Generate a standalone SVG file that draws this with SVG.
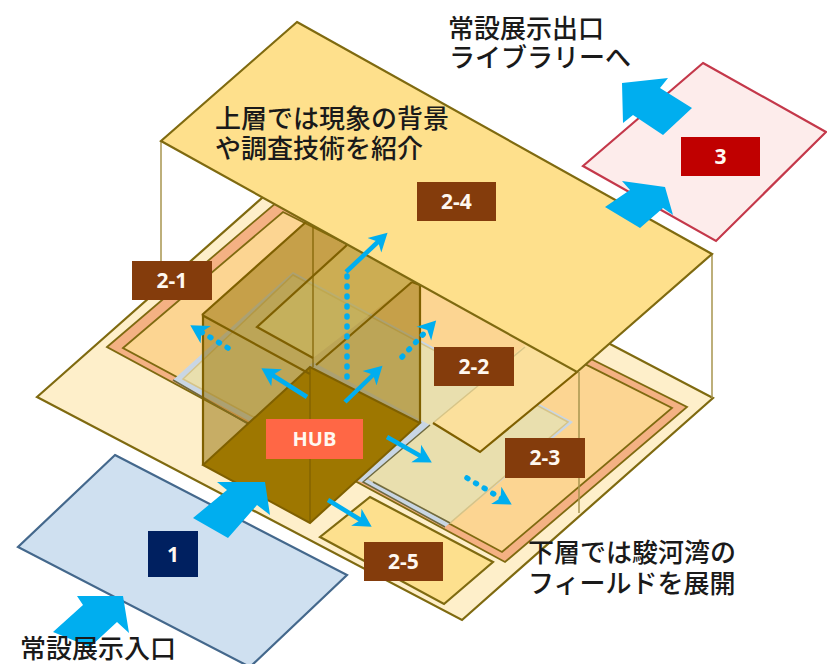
<svg xmlns="http://www.w3.org/2000/svg" width="827" height="664" viewBox="0 0 827 664">
<style>
.t{font-family:"Noto Sans CJK JP","Noto Sans",sans-serif;font-size:26px;font-weight:500;fill:#1a1a1a}
.l{font-family:"Open Sans","Liberation Sans",sans-serif;font-size:21px;font-weight:700;fill:#fff8f0;text-anchor:middle}
.o{stroke:#7f6a10;stroke-width:2.2;stroke-linejoin:miter}
.c{fill:none;stroke:#7f6000;stroke-width:2.2}
.v{fill:none;stroke:#a8954f;stroke-width:1.5}
.a{fill:none;stroke:#00aeef;stroke-width:4.5;marker-end:url(#h)}
.d{fill:none;stroke:#00aeef;stroke-width:5.5;stroke-linecap:round;stroke-dasharray:1 9}
.b{fill:#00aeef}
.r{fill:#843c0c}
</style>
<defs>
<marker id="h" markerUnits="userSpaceOnUse" markerWidth="26" markerHeight="26" refX="9" refY="13" orient="auto" viewBox="0 0 26 26">
<path d="M0,3 L18,13 L0,23 L5,13 Z" fill="#00aeef"/>
</marker>
</defs>
<rect width="827" height="664" fill="#fff"/>

<g id="lower-floor">
<polygon class="o" points="37,397 288,175 713,398 462,620" fill="#feefca"/>
<polygon points="107,347 277,202 687,407 505,562" fill="#f4b183" stroke="#7f6a10" stroke-width="1.8"/>
<polygon points="123,348 283,212 672,408 502,552" fill="#fcd592" stroke="#7f6a10" stroke-width="1.8"/>
<polygon points="173,380 293,272 573,422 445,527" fill="#c9d6e4"/>
<polygon points="183,379 293,275 568,422 450,523" fill="#e9dfae" stroke="#d6c488" stroke-width="1.5"/>
<polygon points="250,425 313,362 430,425 363,482 310,470" fill="#c9d6e4"/>
<path d="M173,380 L250,425 M430,425 L363,482 L445,527 M373,482 L450,523" fill="none" stroke="#6e6a40" stroke-width="1.5"/>
<polygon points="433,423 480,452 577,372 525,345" fill="#fbe09c"/>
<path d="M433,423 L525,347" fill="none" stroke="#d6c488" stroke-width="1.5"/>
<path d="M433,423 L480,452 L577,372" class="c"/>
</g>

<g id="zone-2-5">
<polygon class="o" points="370,497 493,562 444,604 320,537" fill="#fde08e"/>
<rect class="r" x="364" y="542" width="79" height="39"/>
<text class="l" x="403.500" y="569">2-5</text>
</g>

<g id="hub">
<polygon points="202,315 306,222 420,285 420,423 310,523 203,465" fill="#8f6c00" fill-opacity="0.5"/>
<polygon points="257,327 347,245 412,282 313,358" fill="#d8c668" fill-opacity="0.35"/>
<polygon points="310,367 420,423 310,523 203,465" fill="#9e7700"/>
<path class="c" d="M202,315 L306,222 M347,245 L257,327 L313,358 M412,282 L316,365 M202,315 L310,374 M203,465 L203,315 M412,282 L420,285 L420,423"/>
<path d="M203,465 L310,367 L420,423 L310,523 Z" fill="none" stroke="#7f6000" stroke-width="2"/>
<path d="M313,222 L313,367 M310,367 L310,523" fill="none" stroke="#7f6000" stroke-width="1.2"/>
<rect x="266" y="419" width="97" height="40" fill="#ff6745"/>
<text class="l" x="314.500" y="446" style="font-size:20px">HUB</text>
</g>

<g id="upper-floor">
<path class="v" d="M161,141 V262 M712,254 V398 M579,372 V513"/>
<polygon class="o" points="297,22 712,254 577,372 161,141" fill="#fee08c"/>
</g>

<g id="zone-1">
<polygon points="115,455 347,575 250,667 18,547" fill="#cfe0f0" stroke="#44688c" stroke-width="2.2"/>
<rect x="148" y="531" width="50" height="46" fill="#002060"/>
<text class="l" x="173" y="562">1</text>
</g>

<g id="zone-3">
<polygon points="703,63 826,132 716,241 583,166" fill="#fdeceb" stroke="#c4384a" stroke-width="2.2"/>
<rect x="681" y="137" width="79" height="39" fill="#c00000"/>
<text class="l" x="720.500" y="164">3</text>
</g>

<g id="zone-labels">
<g id="label-2-1"><rect class="r" x="132" y="261" width="80" height="39"/><text class="l" x="172" y="288">2-1</text></g>
<g id="label-2-2"><rect class="r" x="434" y="347" width="80" height="39"/><text class="l" x="474" y="374">2-2</text></g>
<g id="label-2-3"><rect class="r" x="505" y="438" width="80" height="40"/><text class="l" x="545" y="465">2-3</text></g>
<g id="label-2-4"><rect class="r" x="417" y="182" width="79" height="39"/><text class="l" x="456.500" y="209">2-4</text></g>
</g>

<g id="connectors">
<polygon class="b" points="193,518 227,490 217,482 265,482 270,515 257,505 228,538"/>
<polygon class="b" points="53,632 83,605 77,596 123,596 129,633 117,622 90,647"/>
<polygon class="b" points="622,83 668,78 660,88 692,108 663,135 633,115 623,123"/>
<polygon class="b" points="605,207 630,190 622,181 665,187 673,215 663,208 640,228"/>
<path class="a" d="M307,397 L269,373"/>
<path class="a" d="M345,402 L376,372"/>
<path class="a" d="M387,437 L424,458"/>
<path class="a" d="M328,500 L364,522"/>
<path class="a" d="M346,272 L381,239"/>
<path class="d" d="M347,377 V272"/>
<path class="d" style="marker-end:url(#h)" d="M402,357 L430,327"/>
<path class="d" style="marker-end:url(#h)" d="M228,348 L198,330"/>
<path class="d" style="marker-end:url(#h)" d="M467,478 L504,500"/>
</g>

<g id="captions">
<text class="t" x="215" y="128">上層では現象の背景</text>
<text class="t" x="215" y="158">や調査技術を紹介</text>
<text class="t" x="448" y="38">常設展示出口</text>
<text class="t" x="449" y="67">ライブラリーへ</text>
<text class="t" x="20" y="658">常設展示入口</text>
<text class="t" x="528" y="562">下層では駿河湾の</text>
<text class="t" x="528" y="593">フィールドを展開</text>
</g>
</svg>
